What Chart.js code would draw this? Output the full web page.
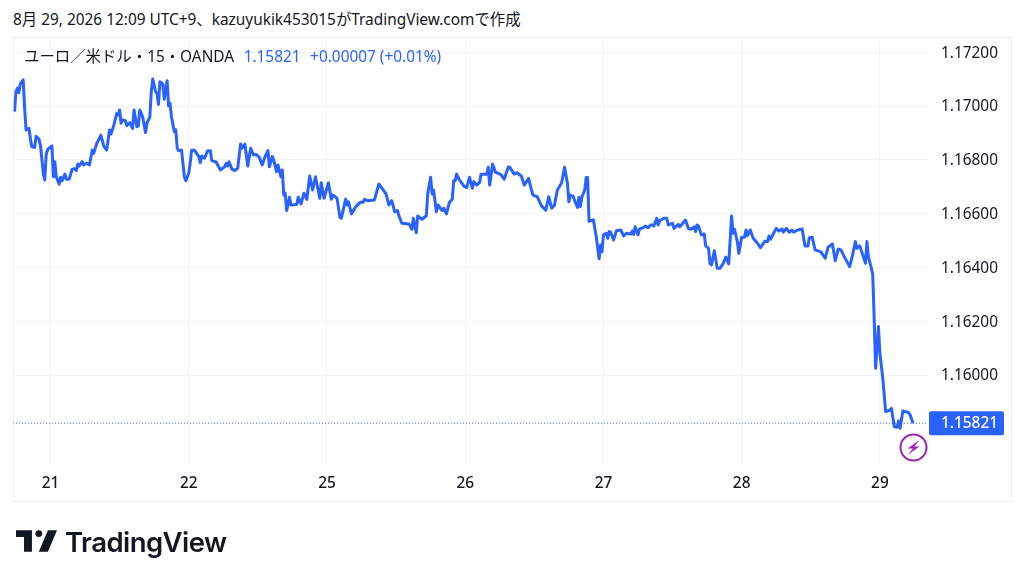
<!DOCTYPE html>
<html lang="ja">
<head>
<meta charset="utf-8">
<style>
    html, body { margin: 0; padding: 0; background: #fff; width: 1024px; height: 582px; overflow: hidden; }
    body { position: relative; font-family: "Noto Sans", "Noto Sans CJK JP", sans-serif; color: #131722; }
    #caption { position: absolute; left: 13px; top: 10px; font-size: 15.4px; line-height: 20px; white-space: nowrap; }
    #frame { position: absolute; left: 13px; top: 37px; width: 997px; height: 463px; border: 1px solid #eceef2; }
    #chartBox { position: absolute; left: 0; top: 0; width: 1024px; height: 582px; }
    #legend { position: absolute; left: 24px; top: 47px; font-size: 15.4px; line-height: 20px; white-space: nowrap; }
    #legend span { color: #2962ff; margin-left: 5.5px; }
    #logo { position: absolute; left: 16px; top: 530px; }
    #logoText { position: absolute; left: 65px; top: 522px; font: 600 27.5px/40px Inter, sans-serif; color: #131722; letter-spacing: -0.55px; }
    #bolt { position: absolute; left: 899px; top: 433px; }
</style>
</head>
<body>
    <div id="caption">8月 29, 2026 12:09 UTC+9、kazuyukik453015がTradingView.comで作成</div>
    <div id="frame"></div>
    <div id="chartBox"><canvas id="myChart" width="1024" height="582"></canvas></div>
    <div id="legend">ユーロ／米ドル・15・OANDA <span>1.15821</span> <span>+0.00007 (+0.01%)</span></div>
    <svg id="bolt" width="29" height="29" viewBox="0 0 29 29">
        <circle cx="14.5" cy="14.5" r="13" fill="#fff" stroke="#9c27b0" stroke-width="2"/>
        <path d="M20.5 7 L8.5 15.5 L14 15.5 L8.5 22 L20.5 13.5 L15.5 13.5 Z" fill="#9c27b0"/>
    </svg>
    <svg id="logo" width="41" height="22" viewBox="0 0 36 19">
        <path fill="#131722" d="M14 0H0v6h7v13h7V0zm14 19h-8L28 0h8l-8 19zM20 6a3 3 0 1 0 0-6 3 3 0 0 0 0 6z"/>
    </svg>
    <div id="logoText">TradingView</div>

    <script src="https://cdnjs.cloudflare.com/ajax/libs/Chart.js/4.4.1/chart.umd.js"></script>
    <script>
        // 15 minute bars, counted from the start of the 21st
        var bars = [
            -25, -24, -23, -22, -21, -19, -18, -17, -15, -14, -13, -11, -10, -8, -7, -5, -4, -3, -2, 1,
            2, 3, 4, 6, 7, 8, 10, 11, 13, 15, 17, 18, 19, 20, 22, 23, 25, 27, 29, 30,
            32, 35, 37, 39, 41, 42, 44, 46, 47, 48, 49, 50, 52, 53, 55, 57, 58, 60, 61, 62,
            64, 66, 67, 69, 70, 71, 73, 74, 75, 76, 78, 79, 81, 82, 83, 84, 86, 87, 88, 89,
            91, 93, 94, 96, 97, 98, 100, 103, 104, 105, 107, 109, 111, 112, 115, 118, 121, 122, 123, 124,
            126, 128, 130, 132, 133, 135, 137, 139, 141, 143, 145, 147, 149, 151, 152, 154, 155, 157, 158, 160,
            161, 162, 163, 164, 166, 167, 171, 172, 174, 176, 178, 180, 182, 184, 187, 188, 190, 193, 195, 196,
            199, 201, 202, 205, 206, 207, 209, 212, 215, 217, 218, 220, 225, 228, 230, 233, 235, 237, 239, 241,
            242, 244, 249, 251, 252, 253, 254, 255, 258, 261, 262, 264, 265, 266, 268, 269, 272, 273, 275, 277,
            279, 280, 281, 282, 284, 287, 289, 291, 293, 294, 296, 298, 299, 303, 304, 305, 307, 309, 312, 313,
            315, 318, 319, 322, 324, 327, 329, 332, 334, 335, 338, 341, 344, 346, 348, 350, 352, 355, 357, 359,
            360, 361, 363, 364, 366, 367, 368, 369, 371, 372, 373, 374, 377, 379, 381, 382, 383, 384, 386, 387,
            388, 389, 391, 393, 396, 398, 400, 403, 404, 405, 406, 408, 409, 412, 413, 415, 417, 418, 419, 421,
            422, 423, 426, 428, 429, 432, 433, 436, 437, 441, 443, 445, 447, 448, 449, 450, 452, 454, 455, 457,
            458, 459, 461, 463, 465, 467, 469, 471, 473, 474, 475, 477, 478, 480, 482, 483, 484, 486, 488, 491,
            493, 496, 498, 499, 500, 504, 506, 508, 509, 511, 513, 515, 516, 519, 522, 524, 526, 527, 529, 531,
            535, 538, 540, 543, 545, 547, 549, 551, 555, 557, 559, 560, 562, 566, 567, 568, 570, 571, 572, 573,
            575, 576, 578, 580, 583, 584, 586, 588, 589, 590, 592, 596, 597, 599
        ];
        var prices = [
            1.16979, 1.17053, 1.17066, 1.17049, 1.17082, 1.17097, 1.16997, 1.16911, 1.16917, 1.16880, 1.16849, 1.16846, 1.16888, 1.16876, 1.16855, 1.16750, 1.16725, 1.16818, 1.16839, 1.16852,
            1.16737, 1.16793, 1.16737, 1.16709, 1.16735, 1.16722, 1.16747, 1.16728, 1.16728, 1.16765, 1.16767, 1.16760, 1.16784, 1.16777, 1.16793, 1.16781, 1.16787, 1.16781, 1.16836, 1.16824,
            1.16859, 1.16892, 1.16851, 1.16836, 1.16911, 1.16896, 1.16929, 1.16973, 1.16967, 1.16985, 1.16936, 1.16948, 1.16945, 1.16927, 1.16938, 1.16917, 1.16985, 1.16923, 1.16926, 1.16985,
            1.16960, 1.16901, 1.16936, 1.16960, 1.17053, 1.17100, 1.17053, 1.17047, 1.17006, 1.17090, 1.17082, 1.17025, 1.17094, 1.17000, 1.17010, 1.16960, 1.16904, 1.16911, 1.16843, 1.16834,
            1.16836, 1.16737, 1.16722, 1.16750, 1.16787, 1.16836, 1.16836, 1.16812, 1.16789, 1.16814, 1.16806, 1.16833, 1.16834, 1.16797, 1.16792, 1.16762, 1.16774, 1.16787, 1.16777, 1.16793,
            1.16765, 1.16760, 1.16768, 1.16859, 1.16843, 1.16858, 1.16777, 1.16843, 1.16818, 1.16820, 1.16809, 1.16781, 1.16812, 1.16834, 1.16774, 1.16812, 1.16799, 1.16756, 1.16781, 1.16737,
            1.16762, 1.16669, 1.16676, 1.16611, 1.16661, 1.16632, 1.16634, 1.16661, 1.16636, 1.16676, 1.16653, 1.16740, 1.16688, 1.16737, 1.16657, 1.16715, 1.16657, 1.16715, 1.16653, 1.16669,
            1.16657, 1.16586, 1.16583, 1.16654, 1.16632, 1.16644, 1.16599, 1.16626, 1.16642, 1.16642, 1.16653, 1.16648, 1.16651, 1.16710, 1.16696, 1.16673, 1.16632, 1.16648, 1.16607, 1.16611,
            1.16591, 1.16564, 1.16561, 1.16542, 1.16583, 1.16558, 1.16529, 1.16591, 1.16579, 1.16592, 1.16676, 1.16735, 1.16673, 1.16688, 1.16607, 1.16632, 1.16611, 1.16620, 1.16599, 1.16641,
            1.16653, 1.16722, 1.16722, 1.16747, 1.16725, 1.16703, 1.16696, 1.16735, 1.16694, 1.16719, 1.16706, 1.16716, 1.16746, 1.16746, 1.16772, 1.16706, 1.16784, 1.16754, 1.16747, 1.16744,
            1.16728, 1.16774, 1.16772, 1.16747, 1.16752, 1.16740, 1.16706, 1.16731, 1.16688, 1.16669, 1.16663, 1.16629, 1.16613, 1.16663, 1.16620, 1.16632, 1.16688, 1.16715, 1.16772, 1.16713,
            1.16644, 1.16669, 1.16665, 1.16648, 1.16623, 1.16661, 1.16626, 1.16661, 1.16688, 1.16734, 1.16734, 1.16571, 1.16577, 1.16514, 1.16432, 1.16483, 1.16458, 1.16521, 1.16527, 1.16508,
            1.16533, 1.16531, 1.16502, 1.16536, 1.16539, 1.16517, 1.16527, 1.16524, 1.16535, 1.16523, 1.16551, 1.16521, 1.16542, 1.16549, 1.16554, 1.16548, 1.16558, 1.16558, 1.16554, 1.16583,
            1.16558, 1.16574, 1.16583, 1.16583, 1.16558, 1.16564, 1.16545, 1.16560, 1.16551, 1.16576, 1.16545, 1.16542, 1.16551, 1.16533, 1.16558, 1.16554, 1.16521, 1.16524, 1.16480, 1.16471,
            1.16415, 1.16409, 1.16462, 1.16397, 1.16397, 1.16413, 1.16438, 1.16413, 1.16591, 1.16527, 1.16542, 1.16496, 1.16452, 1.16512, 1.16512, 1.16539, 1.16518, 1.16539, 1.16508, 1.16490,
            1.16473, 1.16497, 1.16496, 1.16517, 1.16505, 1.16545, 1.16535, 1.16543, 1.16531, 1.16545, 1.16531, 1.16539, 1.16531, 1.16539, 1.16543, 1.16480, 1.16480, 1.16510, 1.16512, 1.16465,
            1.16458, 1.16434, 1.16475, 1.16487, 1.16425, 1.16468, 1.16465, 1.16442, 1.16403, 1.16446, 1.16496, 1.16471, 1.16480, 1.16415, 1.16496, 1.16440, 1.16397, 1.16376, 1.16212, 1.16025,
            1.16180, 1.16081, 1.15988, 1.15864, 1.15870, 1.15876, 1.15808, 1.15806, 1.15830, 1.15802, 1.15867, 1.15860, 1.15851, 1.15821
        ];
        var dayTicks = [0, 96, 192, 288, 384, 480, 576];
        var dayLabels = ['21', '22', '25', '26', '27', '28', '29'];
        var priceTicks = [1.172, 1.17, 1.168, 1.166, 1.164, 1.162, 1.16];
        var lastPrice = 1.15821;

        var line = [];
        for (var i = 0; i < bars.length; i++) {
            line.push({ x: bars[i], y: prices[i] });
        }

        // blue price tag on the axis, same rows as the dotted last price line
        var lastPriceTag = {
            id: 'lastPriceTag',
            afterDraw: function (chart) {
                var ctx = chart.ctx;
                var y = chart.scales.y.getPixelForValue(lastPrice);
                ctx.save();
                ctx.fillStyle = '#2962ff';
                ctx.beginPath();
                ctx.roundRect(929, y - 12, 75, 24, 2);
                ctx.fill();
                ctx.fillStyle = '#fff';
                ctx.font = '500 15.4px "Noto Sans"';
                ctx.textAlign = 'left';
                ctx.textBaseline = 'middle';
                ctx.fillText(lastPrice.toFixed(5), 941, y + 0.5);
                ctx.restore();
            }
        };

        new Chart(document.getElementById('myChart'), {
            type: 'scatter',
            data: {
                datasets: [
                    {
                        data: line,
                        showLine: true,
                        borderColor: '#2962ff',
                        borderWidth: 3,
                        pointRadius: 0,
                        borderJoinStyle: 'round',
                        order: 1
                    },
                    {
                        data: [{ x: -26, y: lastPrice }, { x: 610, y: lastPrice }],
                        showLine: true,
                        borderColor: '#2962ff',
                        borderWidth: 1,
                        borderDash: [1, 2],
                        pointRadius: 0,
                        order: 2
                    }
                ]
            },
            options: {
                responsive: false,
                animation: false,
                layout: { padding: { left: 13.5, top: 37, right: 20, bottom: 81 } },
                plugins: { legend: { display: false }, tooltip: { enabled: false } },
                scales: {
                    x: {
                        type: 'linear',
                        min: -25.7,
                        max: 609.4,
                        afterBuildTicks: function (axis) {
                            axis.ticks = dayTicks.map(function (v) { return { value: v }; });
                        },
                        afterFit: function (axis) { axis.height = 37; },
                        ticks: {
                            autoSkip: false,
                            maxRotation: 0,
                            color: '#131722',
                            font: { family: 'Noto Sans', size: 15.4, weight: '500' },
                            padding: 10,
                            callback: function (v) { return dayLabels[dayTicks.indexOf(v)]; }
                        },
                        grid: { color: '#f3f4f6', drawTicks: false },
                        border: { display: false }
                    },
                    y: {
                        position: 'right',
                        min: 1.156693,
                        max: 1.172565,
                        afterBuildTicks: function (axis) {
                            axis.ticks = priceTicks.map(function (v) { return { value: v }; });
                        },
                        afterFit: function (axis) { axis.width = 76; },
                        ticks: {
                            autoSkip: false,
                            color: '#131722',
                            font: { family: 'Noto Sans', size: 15.4 },
                            padding: 13,
                            labelOffset: 1,
                            callback: function (v) { return v.toFixed(5); }
                        },
                        grid: { color: '#f3f4f6', drawTicks: false },
                        border: { display: false }
                    }
                }
            },
            plugins: [lastPriceTag]
        });
    </script>
</body>
</html>
